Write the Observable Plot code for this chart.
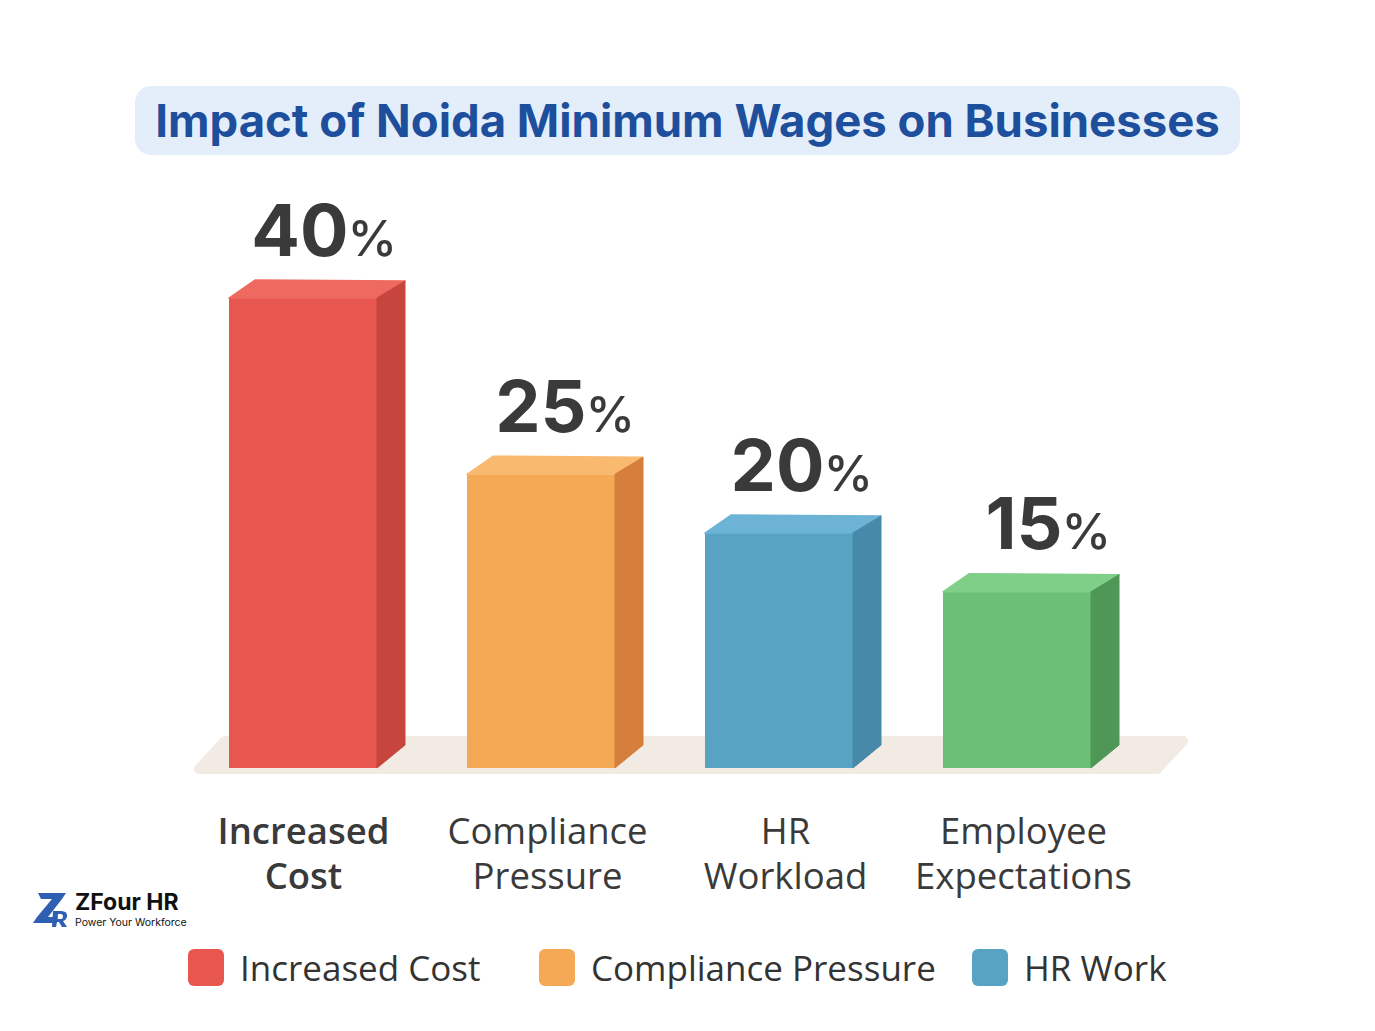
<!DOCTYPE html>
<html>
<head>
<meta charset="utf-8">
<script src="https://cdn.jsdelivr.net/npm/d3@7"></script>
<script src="https://cdn.jsdelivr.net/npm/@observablehq/plot@0.6"></script>
<style>
  html, body { margin: 0; padding: 0; background: #ffffff; }
  body { width: 1375px; height: 1031px; position: relative; overflow: hidden; font-family: "Open Sans", sans-serif; }
  #title { position: absolute; left: 135px; top: 86px; width: 1105px; height: 69px; background: #e4eefa; border-radius: 16px;
           display: flex; align-items: center; justify-content: center; font-family: Inter, sans-serif; font-weight: 700;
           font-size: 45.5px; color: #1d4f9d; }
  #chart { position: absolute; left: 0; top: 160px; }
  .item { position: absolute; top: 949px; display: flex; align-items: center; white-space: nowrap; }
  .sw { width: 36px; height: 37px; border-radius: 6px; margin-right: 16px; }
  .lab { font-size: 35px; color: #333333; line-height: 37px; }
  #logo { position: absolute; left: 32px; top: 890px; display: flex; align-items: center; }
  #logo .name { font-family: Inter, sans-serif; font-weight: 700; font-size: 23px; color: #111; line-height: 23px; }
  #logo .tag { font-family: Inter, sans-serif; font-size: 10.5px; color: #111; line-height: 11px; margin-top: 3px; }
</style>
</head>
<body>
<div id="title">Impact of Noida Minimum Wages on Businesses</div>
<div id="chart"></div>
<div id="logo">
  <svg width="38" height="38" viewBox="0 0 38 38">
    <path d="M6,3 L34,3 L30,9 L16,27 L26,27 L23,33 L1,33 L5,27 L20,9 L9,9 Z" fill="#2f5fb3"/>
    <path d="M21,21 L29,21 Q36,21 35,27 Q34,30 31,31 L35,37 L30,37 L27,32 L25,32 L24,37 L20,37 Z M26,24 L25.5,29 L29,29 Q31,29 31,27 Q31,24 29,24 Z" fill="#2f5fb3" fill-rule="evenodd"/>
  </svg>
  <div style="margin-left:5px">
    <div class="name">ZFour HR</div>
    <div class="tag">Power Your Workforce</div>
  </div>
</div>
<script>
// ---- data ----
const categories = ["Increased Cost", "Compliance Pressure", "HR Workload", "Employee Expectations"];
const categoryLabels = ["Increased\nCost", "Compliance\nPressure", "HR\nWorkload", "Employee\nExpectations"];
const values = [40, 25, 20, 15];
const frontColors = ["#e8574f", "#f6a954", "#58a3c4", "#6cc076"];
const topColors = ["#ee6a61", "#f9b96f", "#6cb3d5", "#7fcf88"];
const sideColors = ["#c6463e", "#d67e3b", "#4789a9", "#4f9757"];
const legendLabels = ["Increased Cost", "Compliance Pressure", "HR Work"];
const legendColors = ["#e8574f", "#f6a954", "#58a3c4"];

const data = categories.map((c, i) => ({
  category: c, label: categoryLabels[i], value: values[i],
  front: frontColors[i], top: topColors[i], side: sideColors[i]
}));

const ink = "#3a3a3a";
const plot = Plot.plot({
  width: 1375,
  height: 750,
  marginLeft: 139,
  marginRight: 194,
  marginTop: 138,
  marginBottom: 142,
  x: { domain: categories, padding: 0.378, axis: null },
  y: { domain: [0, 40], axis: null },
  style: { background: "transparent", overflow: "visible" },
  marks: [
    Plot.barY(data, { x: "category", y: "value", fill: "front" }),
    Plot.text(data, { x: "category", y: "value", text: d => String(d.value), textAnchor: "end", lineAnchor: "bottom",
      dx: 45, dy: -43, fontSize: 72, fontWeight: 700, fill: ink, fontFamily: "Inter, sans-serif" }),
    Plot.text(data, { x: "category", y: "value", text: () => "%", textAnchor: "start", lineAnchor: "bottom",
      dx: 44, dy: -43, fontSize: 50, fontWeight: 500, fill: ink, fontFamily: "Inter, sans-serif" }),
    Plot.text(data, { filter: (d, i) => i === 0, x: "category", y: 0, text: "label", lineAnchor: "top", dy: 43,
      fontSize: 36.5, lineHeight: 1.24, fontWeight: 600, fill: ink, fontFamily: "Open Sans, sans-serif" }),
    Plot.text(data, { filter: (d, i) => i > 0, x: "category", y: 0, text: "label", lineAnchor: "top", dy: 43, dx: 6,
      fontSize: 36.5, lineHeight: 1.24, fontWeight: 400, fill: ink, fontFamily: "Open Sans, sans-serif" })
  ]
});
document.getElementById("chart").appendChild(plot);

// ---- 3D faces and floor, placed with the plot's own scales ----
const xs = plot.scale("x"), ys = plot.scale("y");
const bw = xs.bandwidth;
const DX = 28, DY = -17;
const svg = d3.select(plot);
const y0 = ys.apply(0);
const firstX = xs.apply(categories[0]);
const lastX = xs.apply(categories[categories.length - 1]) + bw;

const floor = svg.insert("g", ":first-child");
floor.append("path")
  .attr("d", `M${firstX - 30},${y0 + 1} L${lastX + 66},${y0 + 1} L${lastX + 92},${y0 - 27} L${firstX - 4},${y0 - 27} Z`)
  .attr("fill", "#f1ebe3").attr("stroke", "#f1ebe3").attr("stroke-width", 10).attr("stroke-linejoin", "round");
const faces = svg.append("g");
data.forEach(d => {
  const x0 = xs.apply(d.category), x1 = x0 + bw, yT = ys.apply(d.value);
  faces.append("path")
    .attr("d", `M${x0},${yT} L${x1},${yT} L${x1 + DX},${yT + DY} L${x0 + DX - 2},${yT + DY - 1} Z`)
    .attr("fill", d.top).attr("stroke", d.top).attr("stroke-width", 1.5).attr("stroke-linejoin", "round");
  faces.append("path")
    .attr("d", `M${x1},${yT} L${x1 + DX},${yT + DY} L${x1 + DX},${y0 + DY - 6} L${x1},${y0} Z`)
    .attr("fill", d.side).attr("stroke", d.side).attr("stroke-width", 1).attr("stroke-linejoin", "round");
});

// ---- legend ----
const legendLefts = [188, 539, 972];
legendLabels.forEach((l, i) => {
  const it = d3.select("body").append("div").attr("class", "item").style("left", legendLefts[i] + "px");
  it.append("div").attr("class", "sw").style("background", legendColors[i]);
  it.append("div").attr("class", "lab").text(l);
});
</script>
</body>
</html>
